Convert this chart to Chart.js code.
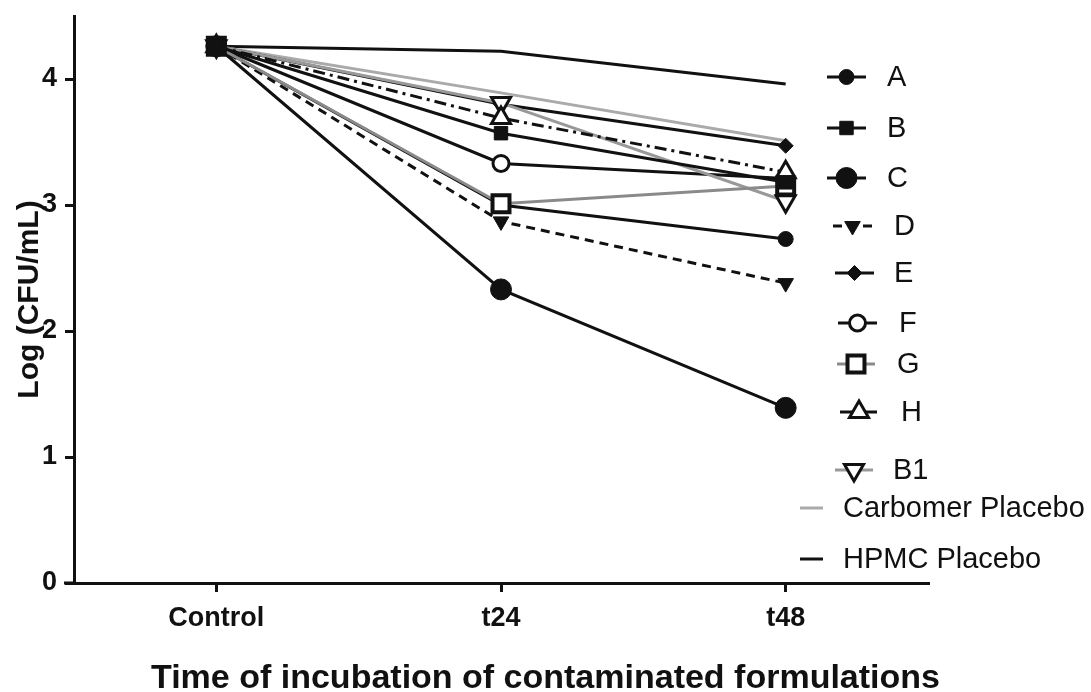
<!DOCTYPE html>
<html>
<head>
<meta charset="utf-8">
<script src="https://cdn.jsdelivr.net/npm/chart.js@4.4.1/dist/chart.umd.min.js"></script>
<style>
  html, body { margin: 0; padding: 0; background: #fff; }
  #wrap { width: 1091px; height: 692px; position: relative; }
</style>
</head>
<body>
<div id="wrap"><canvas id="cfuChart"></canvas></div>
<script>
// log CFU/mL per formulation at each sampling time
const timePoints = ['Control', 't24', 't48'];
const seriesA = [4.26, 3.00, 2.73];
const seriesB = [4.26, 3.57, 3.18];
const seriesC = [4.26, 2.33, 1.39];
const seriesD = [4.26, 2.87, 2.38];
const seriesE = [4.26, 3.80, 3.47];
const seriesF = [4.26, 3.33, 3.21];
const seriesG = [4.26, 3.01, 3.15];
const seriesH = [4.26, 3.69, 3.26];
const seriesB1 = [4.26, 3.81, 3.03];
const carbomerPlacebo = [4.26, 3.89, 3.51];
const hpmcPlacebo = [4.26, 4.22, 3.96];
const yTicks = [0, 1, 2, 3, 4];
const xTitle = 'Time of incubation of contaminated formulations';

const BLACK = '#111111';
const FONT = "'Liberation Sans', Arial, Helvetica, sans-serif";

// where each legend entry sits on the right side (sample line x0-x1, text x, row y)
const legendRows = [
    { x0: 827, x1: 866, tx: 887, y: 77 },
    { x0: 827, x1: 866, tx: 887, y: 128 },
    { x0: 827, x1: 866, tx: 887, y: 178 },
    { x0: 833, x1: 872, tx: 894, y: 226 },
    { x0: 835, x1: 874, tx: 894, y: 273 },
    { x0: 838, x1: 877, tx: 899, y: 323 },
    { x0: 837, x1: 875, tx: 897, y: 364 },
    { x0: 840, x1: 878, tx: 901, y: 412 },
    { x0: 835, x1: 873, tx: 893, y: 470 },
    { x0: 800, x1: 823, tx: 843, y: 508 },
    { x0: 800, x1: 823, tx: 843, y: 559 }
];

function series(label, data, opts) {
    return Object.assign({
        label: label,
        data: data,
        borderColor: BLACK,
        borderWidth: 3,
        pointBorderColor: BLACK,
        pointBackgroundColor: BLACK,
        pointBorderWidth: 1,
        pointRadius: 7,
        pointRotation: 0,
        pointStyle: 'circle',
        tension: 0,
        fill: false
    }, opts);
}

const datasets = [
    series('A', seriesA, { pointRadius: 7.5 }),
    series('B', seriesB, { pointStyle: 'rect', pointRadius: 9.5, order: -3 }),
    series('C', seriesC, { pointRadius: 10.5 }),
    series('D', seriesD, { pointStyle: 'triangle', pointRotation: 180, pointRadius: 9, borderDash: [9, 6] }),
    series('E', seriesE, { pointStyle: 'rectRot', pointRadius: 7.5 }),
    series('F', seriesF, { pointBackgroundColor: '#fff', pointBorderWidth: 3, pointRadius: 8 }),
    series('G', seriesG, { borderColor: '#8a8a8a', pointStyle: 'rect', pointBackgroundColor: '#fff', pointBorderWidth: 4, pointRadius: 12, order: -2 }),
    series('H', seriesH, { pointStyle: 'triangle', pointBackgroundColor: '#fff', pointBorderWidth: 3, pointRadius: 11, borderDash: [12, 5, 3, 5], order: -1 }),
    series('B1', seriesB1, { borderColor: '#999999', pointStyle: 'triangle', pointRotation: 180, pointBackgroundColor: '#fff', pointBorderWidth: 3, pointRadius: 11, order: -1 }),
    series('Carbomer Placebo', carbomerPlacebo, { borderColor: '#aaaaaa', pointRadius: 0, pointStyle: false }),
    series('HPMC Placebo', hpmcPlacebo, { pointRadius: 0, pointStyle: false })
];

const sideLegend = {
    id: 'sideLegend',
    afterDraw(chart) {
        const ctx = chart.ctx;
        chart.data.datasets.forEach((ds, i) => {
            const row = legendRows[i];
            ctx.save();
            ctx.strokeStyle = ds.borderColor;
            ctx.lineWidth = 3;
            ctx.setLineDash(ds.borderDash || []);
            ctx.beginPath();
            ctx.moveTo(row.x0, row.y);
            ctx.lineTo(row.x1, row.y);
            ctx.stroke();
            ctx.setLineDash([]);
            if (ds.pointStyle) {
                ctx.fillStyle = ds.pointBackgroundColor;
                ctx.strokeStyle = ds.pointBorderColor;
                ctx.lineWidth = ds.pointBorderWidth;
                Chart.helpers.drawPoint(ctx, {
                    pointStyle: ds.pointStyle,
                    radius: ds.pointRadius,
                    rotation: ds.pointRotation,
                    borderWidth: ds.pointBorderWidth
                }, (row.x0 + row.x1) / 2, row.y);
            }
            ctx.fillStyle = BLACK;
            ctx.font = '29px ' + FONT;
            ctx.textBaseline = 'middle';
            ctx.textAlign = 'left';
            ctx.fillText(ds.label, row.tx, row.y + 1);
            ctx.restore();
        });
    }
};

// x axis line runs a little past the y axis on the left; the x title is centred on the whole figure
const axisExtras = {
    id: 'axisExtras',
    afterDraw(chart) {
        const { ctx, chartArea, width } = chart;
        ctx.save();
        ctx.strokeStyle = BLACK;
        ctx.lineWidth = 3;
        ctx.beginPath();
        ctx.moveTo(chartArea.left - 10, chartArea.bottom);
        ctx.lineTo(chartArea.left, chartArea.bottom);
        ctx.stroke();
        ctx.fillStyle = BLACK;
        ctx.font = 'bold 34px ' + FONT;
        ctx.textAlign = 'center';
        ctx.textBaseline = 'middle';
        ctx.fillText(xTitle, width / 2, 679);
        ctx.restore();
    }
};

new Chart(document.getElementById('cfuChart'), {
    type: 'line',
    data: { labels: timePoints, datasets: datasets },
    plugins: [sideLegend, axisExtras],
    options: {
        responsive: true,
        maintainAspectRatio: false,
        animation: false,
        layout: { padding: { top: 14, right: 163, left: 0, bottom: 0 } },
        plugins: { legend: { display: false }, tooltip: { enabled: false } },
        scales: {
            x: {
                offset: true,
                grid: { offset: false, drawOnChartArea: false, drawTicks: true, tickLength: 9, color: BLACK, lineWidth: 3 },
                border: { color: BLACK, width: 3 },
                ticks: { color: BLACK, padding: 10, font: { family: FONT, size: 27, weight: 'bold' } },
                afterFit(scale) { scale.height = 109; }
            },
            y: {
                min: 0,
                max: 4.5,
                afterBuildTicks(scale) { scale.ticks = yTicks.map(v => ({ value: v })); },
                grid: { drawOnChartArea: false, drawTicks: true, tickLength: 9, color: BLACK, lineWidth: 3 },
                border: { color: BLACK, width: 3 },
                ticks: { color: BLACK, padding: 8, font: { family: FONT, size: 27, weight: 'bold' } },
                title: {
                    display: true,
                    text: 'Log (CFU/mL)',
                    color: BLACK,
                    padding: { top: 12, bottom: 0 },
                    font: { family: FONT, size: 30, weight: 'bold' }
                },
                afterFit(scale) {
                    scale.width = 74;
                    scale.paddingTop = 0;
                    scale.paddingBottom = 0;
                }
            }
        }
    }
});
</script>
</body>
</html>
